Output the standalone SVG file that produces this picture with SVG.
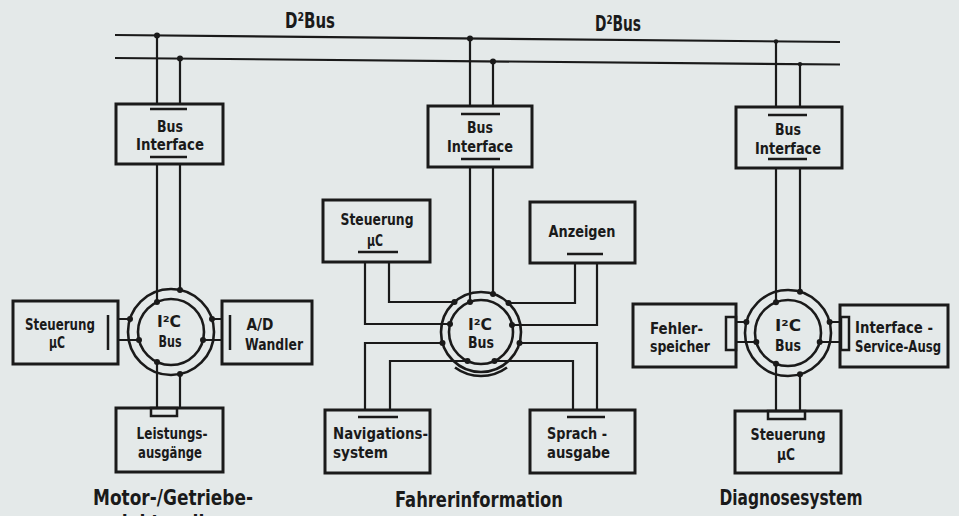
<svg xmlns="http://www.w3.org/2000/svg" width="959" height="516" viewBox="0 0 959 516">
<style>
.bx{fill:none;stroke:#1a1a1a;stroke-width:3}
.w{fill:none;stroke:#1a1a1a;stroke-width:2.2}
.bar{fill:none;stroke:#1a1a1a;stroke-width:2.5}
.ring{fill:none;stroke:#1a1a1a;stroke-width:2.6}
.dot{fill:#1a1a1a}
text{font-family:"Liberation Sans Narrow","DejaVu Sans Condensed","Liberation Sans",sans-serif;font-weight:bold;fill:#1a1a1a}
.s{font-size:15px}
.c{text-anchor:middle}
.l{font-size:21px}
</style>
<rect width="959" height="516" fill="#e4e9e9"/>

<g id="d2bus">
<path class="w" d="M115,35 L840,42 M115,58 L840,64.5"/>
<text x="285" y="28" class="l" textLength="50" lengthAdjust="spacingAndGlyphs">D²Bus</text>
<text x="595" y="31" class="l" textLength="46" lengthAdjust="spacingAndGlyphs">D²Bus</text>
</g>

<g id="connectors">
<path class="w" d="M157,35.4 V104 M180,58.6 V104 M157,164 V302 M180,164 V290 M118,319 H130 M118,340 H139 M212,319 H222 M203,340 H222 M157,362 V408 M180,374 V408"/>
<path class="w" d="M470,38.4 V106 M493,61.6 V106 M470,167 V302 M493,167 V294 M389,262 V302 H454.5 M365,262 V324 H450 M575,263 V303 H508.5 M597,263 V325 H512 M442.5,343 H365 V410 M467.5,361 H390 V410 M519.5,343 H597 V410 M494.5,361 H573 V410"/>
<path class="w" d="M776,41.4 V107 M800,64.1 V107 M776,168 V302.3 M800,168 V291.7 M736,322 H746.4 M736,342 H756.3 M829.6,322 H840 M819.7,342 H840 M776,363.7 V411 M800,374.3 V411"/>
<g class="dot">
<circle cx="157" cy="35.4" r="3"/><circle cx="180" cy="58.6" r="3"/>
<circle cx="470" cy="38.4" r="3"/><circle cx="493" cy="61.6" r="3"/>
<circle cx="776" cy="41.4" r="2.2"/><circle cx="800" cy="64.1" r="2.2"/>
<circle cx="157" cy="302" r="3"/><circle cx="180" cy="290" r="3"/><circle cx="130" cy="319" r="3"/><circle cx="139" cy="340" r="3"/><circle cx="212" cy="319" r="3"/><circle cx="203" cy="340" r="3"/><circle cx="157" cy="362" r="3"/><circle cx="180" cy="374" r="3"/>
<circle cx="470" cy="302" r="3"/><circle cx="493" cy="294" r="3"/><circle cx="454.5" cy="302" r="3"/><circle cx="450" cy="324" r="3"/><circle cx="508.5" cy="303" r="3"/><circle cx="512" cy="325" r="3"/><circle cx="442.5" cy="343" r="3"/><circle cx="467.5" cy="361" r="3"/><circle cx="519.5" cy="343" r="3"/><circle cx="494.5" cy="361" r="3"/>
<circle cx="776" cy="302.3" r="3"/><circle cx="800" cy="291.7" r="3"/><circle cx="746.4" cy="322" r="3"/><circle cx="756.3" cy="342" r="3"/><circle cx="829.6" cy="322" r="3"/><circle cx="819.7" cy="342" r="3"/><circle cx="776" cy="363.7" r="3"/><circle cx="800" cy="374.3" r="3"/>
</g>
</g>

<!-- left module -->
<g id="bi-left">
<rect class="bx" x="116" y="104" width="107" height="60"/>
<path class="bar" d="M150,109 H187 M150,157 H187"/>
<text x="170" y="132" class="s c" textLength="26" lengthAdjust="spacingAndGlyphs">Bus</text>
<text x="170" y="150" class="s c" textLength="68" lengthAdjust="spacingAndGlyphs">Interface</text>
</g>
<g id="i2c-left">
<circle class="ring" cx="171" cy="332" r="43"/>
<circle class="ring" cx="171" cy="332" r="33"/>
<text x="169" y="327" class="s c" textLength="24" lengthAdjust="spacingAndGlyphs">I²C</text>
<text x="170" y="347" class="s c" textLength="23" lengthAdjust="spacingAndGlyphs">Bus</text>
</g>
<g id="steuerung-left">
<rect class="bx" x="13" y="301" width="105" height="63"/>
<path class="bar" d="M108,315 V350"/>
<text x="60" y="330" class="s c" textLength="70" lengthAdjust="spacingAndGlyphs">Steuerung</text>
<text x="57" y="348" class="s c" textLength="16" lengthAdjust="spacingAndGlyphs">µC</text>
</g>
<g id="ad-wandler">
<rect class="bx" x="222" y="301" width="90" height="63"/>
<path class="bar" d="M230,315 V350"/>
<text x="260" y="330" class="s c" textLength="27" lengthAdjust="spacingAndGlyphs">A/D</text>
<text x="274" y="350" class="s c" textLength="58" lengthAdjust="spacingAndGlyphs">Wandler</text>
</g>
<g id="leistung">
<rect class="bx" x="116" y="408" width="107" height="64"/>
<rect class="bar" x="151" y="408" width="26" height="8"/>
<text x="172" y="439" class="s c" textLength="71" lengthAdjust="spacingAndGlyphs">Leistungs-</text>
<text x="170" y="458" class="s c" textLength="64" lengthAdjust="spacingAndGlyphs">ausgänge</text>
</g>
<text x="173" y="505" class="l c" textLength="160" lengthAdjust="spacingAndGlyphs">Motor-/Getriebe-</text>
<text x="160" y="530" class="l c" textLength="100" lengthAdjust="spacingAndGlyphs">elektronik</text>

<!-- middle module -->
<g id="bi-mid">
<rect class="bx" x="428" y="106" width="104" height="61"/>
<path class="bar" d="M461,114 H500 M461,159 H500"/>
<text x="480" y="133" class="s c" textLength="26" lengthAdjust="spacingAndGlyphs">Bus</text>
<text x="480" y="152" class="s c" textLength="66" lengthAdjust="spacingAndGlyphs">Interface</text>
</g>
<g id="i2c-mid">
<circle class="ring" cx="481" cy="332" r="40"/>
<circle class="ring" cx="481" cy="332" r="32"/>
<path class="ring" d="M455,367.5 A44,44 0 0 0 507,367.5"/>
<text x="480" y="330" class="s c" textLength="24" lengthAdjust="spacingAndGlyphs">I²C</text>
<text x="481" y="348" class="s c" textLength="26" lengthAdjust="spacingAndGlyphs">Bus</text>
</g>
<g id="steuerung-mid">
<rect class="bx" x="323" y="200" width="107" height="62"/>
<path class="bar" d="M358,252 H398"/>
<text x="377" y="225" class="s c" textLength="73" lengthAdjust="spacingAndGlyphs">Steuerung</text>
<text x="375" y="246" class="s c" textLength="16" lengthAdjust="spacingAndGlyphs">µC</text>
</g>
<g id="anzeigen">
<rect class="bx" x="530" y="202" width="105" height="61"/>
<path class="bar" d="M567,254 H603"/>
<text x="582" y="237" class="s c" textLength="67" lengthAdjust="spacingAndGlyphs">Anzeigen</text>
</g>
<g id="navigation">
<rect class="bx" x="325" y="410" width="105" height="63"/>
<path class="bar" d="M358,417 H398"/>
<text x="333" y="439" class="s" textLength="95" lengthAdjust="spacingAndGlyphs">Navigations-</text>
<text x="333" y="458" class="s" textLength="55" lengthAdjust="spacingAndGlyphs">system</text>
</g>
<g id="sprachausgabe">
<rect class="bx" x="530" y="410" width="105" height="63"/>
<path class="bar" d="M567,417 H605"/>
<text x="547" y="439" class="s" textLength="60" lengthAdjust="spacingAndGlyphs">Sprach -</text>
<text x="547" y="458" class="s" textLength="63" lengthAdjust="spacingAndGlyphs">ausgabe</text>
</g>
<text x="479" y="507" class="l c" textLength="168" lengthAdjust="spacingAndGlyphs">Fahrerinformation</text>

<!-- right module -->
<g id="bi-right">
<rect class="bx" x="736" y="107" width="106" height="61"/>
<path class="bar" d="M768,115 H807 M768,159 H807"/>
<text x="788" y="135" class="s c" textLength="26" lengthAdjust="spacingAndGlyphs">Bus</text>
<text x="788" y="154" class="s c" textLength="66" lengthAdjust="spacingAndGlyphs">Interface</text>
</g>
<g id="i2c-right">
<circle class="ring" cx="788" cy="333" r="43"/>
<circle class="ring" cx="788" cy="333" r="33"/>
<text x="788" y="331" class="s c" textLength="26" lengthAdjust="spacingAndGlyphs">I²C</text>
<text x="788" y="351" class="s c" textLength="26" lengthAdjust="spacingAndGlyphs">Bus</text>
</g>
<g id="fehlerspeicher">
<rect class="bx" x="633" y="304" width="103" height="63"/>
<rect class="bar" x="726" y="317" width="10" height="33"/>
<text x="650" y="334" class="s" textLength="53" lengthAdjust="spacingAndGlyphs">Fehler-</text>
<text x="650" y="352" class="s" textLength="60" lengthAdjust="spacingAndGlyphs">speicher</text>
</g>
<g id="interface-service">
<rect class="bx" x="840" y="305" width="108" height="62"/>
<rect class="bar" x="841" y="317" width="8" height="33"/>
<text x="855" y="333" class="s" textLength="78" lengthAdjust="spacingAndGlyphs">Interface -</text>
<text x="855" y="352" class="s" textLength="86" lengthAdjust="spacingAndGlyphs">Service-Ausg</text>
</g>
<g id="steuerung-right">
<rect class="bx" x="735" y="411" width="106" height="62"/>
<rect class="bar" x="768" y="411" width="37" height="8"/>
<text x="788" y="440" class="s c" textLength="75" lengthAdjust="spacingAndGlyphs">Steuerung</text>
<text x="786" y="460" class="s c" textLength="18" lengthAdjust="spacingAndGlyphs">µC</text>
</g>
<text x="791" y="505" class="l c" textLength="143" lengthAdjust="spacingAndGlyphs">Diagnosesystem</text>
</svg>
